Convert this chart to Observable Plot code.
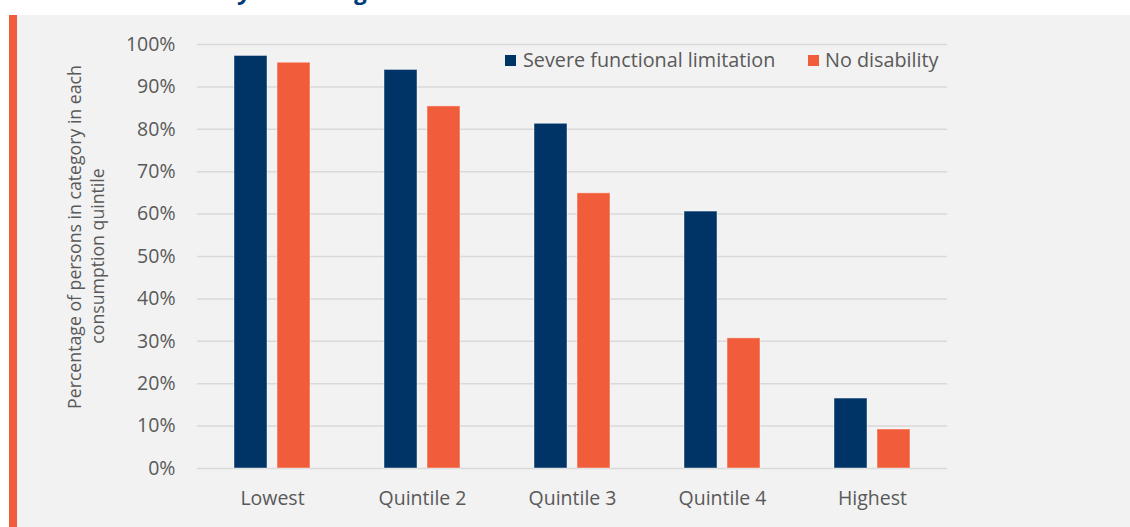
<!DOCTYPE html>
<html>
<head>
<meta charset="utf-8">
<script src="https://cdn.jsdelivr.net/npm/d3@7"></script>
<script src="https://cdn.jsdelivr.net/npm/@observablehq/plot@0.6"></script>
<style>
  html, body { margin: 0; padding: 0; background: #ffffff; }
  #wrap { position: relative; width: 1130px; height: 527px; overflow: hidden; font-family: "Open Sans", sans-serif; }
  #panel { position: absolute; left: 17px; right: 0; top: 15px; bottom: 0; background: #f2f2f2; }
  #accent { position: absolute; left: 9px; width: 8px; top: 15px; bottom: 0; background: #f15d3b; }
  #title { position: absolute; left: 145px; top: -22.3px; font: italic 700 24px/24px "Open Sans", sans-serif; color: #003a78; white-space: nowrap; }
  #chart { position: absolute; left: 0; top: 0; }
  .ylab { position: absolute; font-size: 17.7px; color: #595959; white-space: nowrap; transform: translate(-50%, -50%) rotate(-90deg); line-height: 1; }
  .leg { position: absolute; font-size: 19.8px; color: #595959; white-space: nowrap; line-height: 1; }
  .sw { position: absolute; width: 11px; height: 11px; }
</style>
</head>
<body>
<div id="wrap">
  <div id="panel"></div>
  <div id="accent"></div>
  <div id="title">Disability and living standards</div>
  <div id="chart"></div>
  <div class="ylab" id="yl1" style="left:75px; top:237px;"></div>
  <div class="ylab" id="yl2" style="left:98px; top:256px;"></div>
  <div class="sw" id="sw0" style="left:505px; top:55px;"></div>
  <div class="leg" id="lg0" style="left:523px; top:50px;"></div>
  <div class="sw" id="sw1" style="left:808px; top:55px;"></div>
  <div class="leg" id="lg1" style="left:825px; top:50px;"></div>
</div>
<script>
const categories = ["Lowest", "Quintile 2", "Quintile 3", "Quintile 4", "Highest"];
const series = ["Severe functional limitation", "No disability"];
const severe = [97.3, 94.0, 81.3, 60.6, 16.5];
const noDisability = [95.7, 85.4, 64.9, 30.7, 9.2];
const yTicks = [0, 10, 20, 30, 40, 50, 60, 70, 80, 90, 100];
const colors = ["#003366", "#f15d3b"];
const yLabelLines = ["Percentage of persons in category in each", "consumption quintile"];

const data = [];
categories.forEach((c, i) => {
  data.push({category: c, series: series[0], value: severe[i]});
  data.push({category: c, series: series[1], value: noDisability[i]});
});

const chart = Plot.plot({
  width: 1130,
  height: 527,
  marginTop: 44,
  marginBottom: 59,
  marginLeft: 197,
  marginRight: 183,
  style: {background: "transparent", fontFamily: "'Open Sans', sans-serif", fontSize: "19.5px", color: "#595959"},
  fx: {domain: categories, padding: 0, label: null},
  x: {domain: series, axis: null, paddingInner: 0.231, paddingOuter: 0.848},
  y: {domain: [0, 100], label: null},
  color: {domain: series, range: colors},
  marks: [
    Plot.ruleY(yTicks, {stroke: "#d9d9d9", strokeWidth: 1.5}),
    Plot.barY(data, {fx: "category", x: "series", y: "value", fill: "series", stroke: "#ffffff", strokeOpacity: 0.45, strokeWidth: 1}),
    Plot.axisY({ticks: yTicks, tickFormat: d => d + "%", tickSize: 0, tickPadding: 22, label: null, fontSize: 19.5, fill: "#595959"}),
    Plot.axisFx({anchor: "bottom", tickSize: 0, tickPadding: 23, label: null, fontSize: 19.5, fill: "#595959"})
  ]
});
document.getElementById("chart").appendChild(chart);

document.getElementById("yl1").textContent = yLabelLines[0];
document.getElementById("yl2").textContent = yLabelLines[1];
document.getElementById("sw0").style.background = colors[0];
document.getElementById("sw1").style.background = colors[1];
document.getElementById("lg0").textContent = series[0];
document.getElementById("lg1").textContent = series[1];
</script>
</body>
</html>
